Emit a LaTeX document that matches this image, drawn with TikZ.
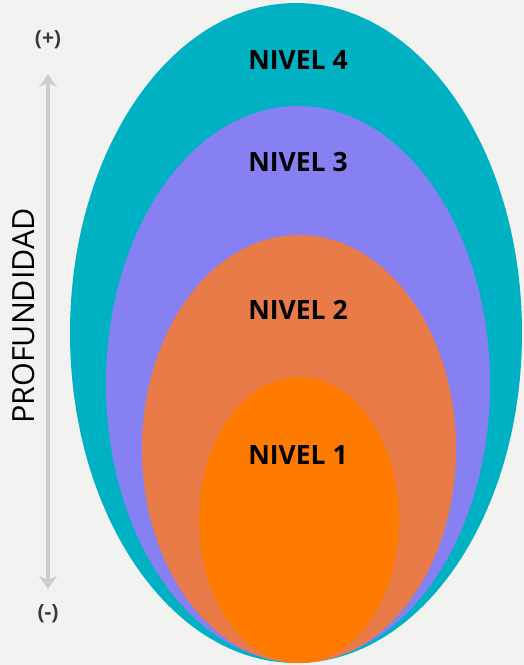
\documentclass[tikz,border=0pt]{standalone}
\usepackage{fontspec}
\setmainfont{Open Sans}
\usetikzlibrary{arrows.meta}
\definecolor{bgc}{HTML}{F2F2F1}
\definecolor{teal4}{HTML}{00B1C3}
\definecolor{purp3}{HTML}{8780F2}
\definecolor{ora2}{HTML}{E87B47}
\definecolor{ora1}{HTML}{FF7B00}
\definecolor{arrowc}{HTML}{C8D1CD}
\definecolor{signc}{HTML}{3A3A3A}
\tikzset{
  level/.style={font=\fontsize{26.5}{30}\selectfont\bfseries, text=black},
  sign/.style={font=\fontsize{21}{24}\selectfont\bfseries, text=signc},
  axislabel/.style={font=\fontsize{30.5}{34}\selectfont, text=black, rotate=90},
  axisarrow/.style={draw=arrowc, line width=4pt, {Stealth[length=13pt,width=18pt,inset=4pt]}-{Stealth[length=13pt,width=18pt,inset=4pt]}}
}
\begin{document}
\begin{tikzpicture}[x=1pt,y=-1pt]
\fill[bgc] (0,0) rectangle (524,665);
\useasboundingbox (0,0) rectangle (524,665);
% ellipses
\fill[teal4] (296,333) ellipse [x radius=226, y radius=330];
\fill[purp3] (298,384) ellipse [x radius=192, y radius=278];
\fill[ora2] (299,449) ellipse [x radius=157, y radius=214];
\fill[ora1] (299,520) ellipse [x radius=100, y radius=143];
% labels
\node[level] (n4) at (298,60) {NIVEL 4};
\node[level] (n3) at (298,162) {NIVEL 3};
\node[level] (n2) at (298,310) {NIVEL 2};
\node[level] (n1) at (298,455) {NIVEL 1};
% axis
\node[sign] (plus) at (48,40) {(+)};
\node[sign] (minus) at (48,614) {(-)};
\coordinate (atop) at (48,74);
\coordinate (abot) at (48,589);
\draw[axisarrow] (atop) -- (abot);
\node[axislabel] (prof) at (24,316) {PROFUNDIDAD};
\end{tikzpicture}
\end{document}
